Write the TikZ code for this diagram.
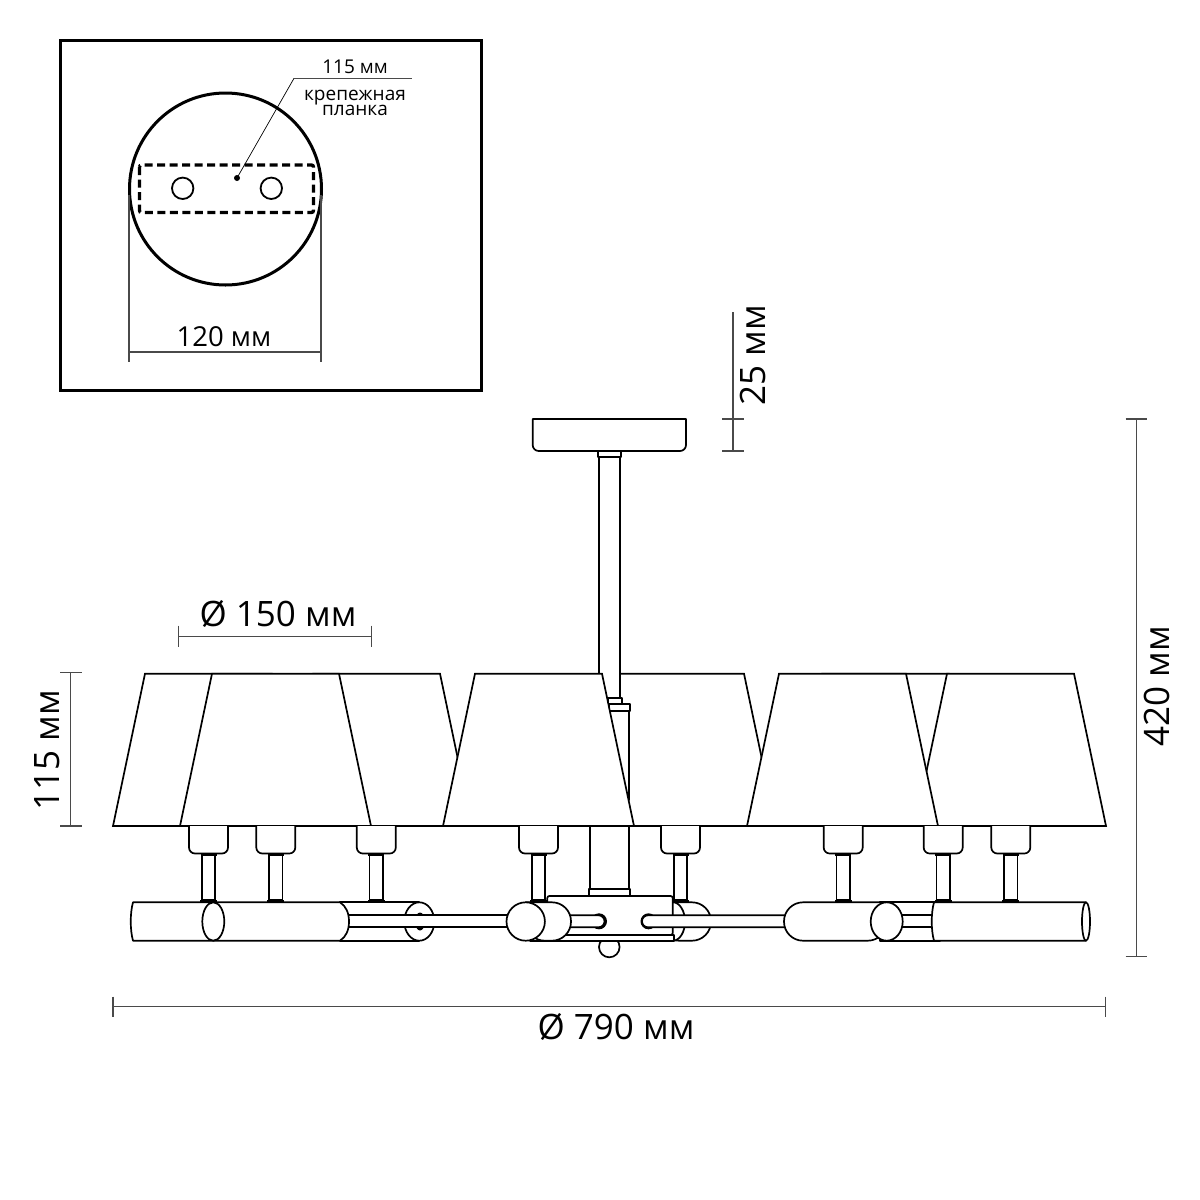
\documentclass[tikz,border=0pt]{standalone}
\usepackage{fontspec}
\setmainfont{Open Sans}
\usetikzlibrary{positioning,calc}
\definecolor{dimgrey}{HTML}{4A4A4A}
\tikzset{
  part/.style={draw=black,line width=1.7pt,fill=white,line join=round},
  dimline/.style={draw=dimgrey,line width=1.1pt},
  thin leader/.style={draw=black,line width=0.7pt},
  biglabel/.style={font=\fontsize{35}{35}\selectfont,inner sep=0pt},
  midlabel/.style={font=\fontsize{27.5}{27.5}\selectfont,inner sep=0pt},
  smalllabel/.style={font=\fontsize{19}{19}\selectfont,inner sep=0pt,text height=10pt,text depth=3pt}
}
\begin{document}
\begin{tikzpicture}[x=1pt,y=-1pt]
    \useasboundingbox (0,0) rectangle (1200,1200);
    % Mounting plate inset
    \draw[line width=3pt] (60,40) rectangle (481,390);
    \draw[line width=3pt,fill=white] (225.5,189) circle (96);
    \draw[line width=3.3pt,dash pattern=on 8pt off 4.5pt,rounded corners=2pt] (139.5,165) rectangle (313.5,212.5);
    \draw[line width=1.8pt] (182.7,188.3) circle (10.7);
    \draw[line width=1.8pt] (271.3,188.3) circle (10.7);
    \coordinate (dot) at (237,178);
    \coordinate (elbow) at (294,78.3);
    \coordinate (shelf) at (411.7,78.3);
    \fill (dot) circle (3);
    \draw[thin leader] (dot) -- (elbow);
    \draw[dimline] (elbow) -- (shelf);
    \node[smalllabel] (plate) at (355,70) {115 мм};
    \node[smalllabel] (bar) at (355,96.7) {крепежная};
    \node[smalllabel] (barb) at (355,111.7) {планка};
    \coordinate (wl) at (129,195);
    \coordinate (wr) at (321,195);
    \draw[dimline] (wl) -- (129,362) (wr) -- (321,362) (129,352) -- (321,352);
    \node[midlabel] (width) at (224,337) {120 мм};

    % Back shades
    \foreach \sx in {145,313,617,822,947}
        \draw[part,line join=miter] (\sx,673.7) -- (\sx+127,673.7) -- (\sx+159,826) -- (\sx-32,826) -- cycle;

    % Stem
    \draw[part] (532.7,419) -- (686,419) [rounded corners=6pt] -- (686,451) -- (532.7,451) [sharp corners] -- cycle;
    \draw[part] (597.7,451) rectangle (621,457);
    \draw[part] (599.3,457) rectangle (620,698);
    \draw[part] (607.7,698) rectangle (621.7,704);
    \draw[part] (609,704) rectangle (630,711);
    \draw[part] (609,711) rectangle (628.7,800);

    % Front shades
    \foreach \sx in {212,475,779}
        \draw[part,line join=miter] (\sx,673.7) -- (\sx+127,673.7) -- (\sx+159,826) -- (\sx-32,826) -- cycle;

    % Centre post
    \draw[part] (590.3,826) rectangle (629,889.3);
    \draw[part] (589,889.3) rectangle (630.3,895.5);

    % Sockets
    \foreach \cx in {208.5,275.8,376.3,538.5,680.5,843.2,943.2,1010.8} {
        \draw[part,rounded corners=6pt] (\cx-19.5,826) -- (\cx-19.5,853.5) -- (\cx+19.5,853.5) -- (\cx+19.5,826);
        \draw[part] (\cx-6.7,855) rectangle (\cx+6.7,900);
        \fill (\cx-8,852.8) rectangle (\cx+8,856);
        \fill (\cx-8.5,899.5) rectangle (\cx+8.5,903);
    }

    % Left arm
    \draw[part] (340,902.3) rectangle (419.3,940.7);
    \draw[part] (419.3,921.5) ellipse (15 and 19.2);
    \fill (420,921.5) ellipse (5 and 9);
    \fill[white] (345,915.3) rectangle (515,927.3);
    \draw[part] (345,915.3) -- (515,915.3) (345,927.3) -- (515,927.3);
    \draw[part] (133,902.3) -- (340,902.3) .. controls (346,906) and (349,913) .. (349,921.5) .. controls (349,930) and (346,937) .. (340,940.7) -- (133,940.7) .. controls (130,930) and (130,913) .. (133,902.3) -- cycle;
    \draw[part] (213.3,921.5) ellipse (11 and 19.2);

    % Centre body
    \draw[part] (609.3,947) circle (10.3);
    \draw[part,rounded corners=19pt] (660,902.3) -- (711,902.3) -- (711,940.7) -- (660,940.7) [sharp corners] -- cycle;
    \draw[part] (673,921.5) ellipse (12 and 19.2);
    \draw[part] (530,935) rectangle (674,940.7);
    \draw[part,rounded corners=2pt] (547.3,935) -- (547.3,896) -- (672.7,896) -- (672.7,935) -- cycle;
    \fill (599,921.3) circle (8);
    \fill (648.5,921.3) circle (8);
    \draw[part,rounded corners=6pt] (560,915.3) -- (604.5,915.3) -- (604.5,927.3) -- (560,927.3);
    \draw[part,rounded corners=6pt] (795,915.3) -- (642,915.3) -- (642,927.3) -- (795,927.3);
    \draw[part,rounded corners=19pt] (525.7,902.3) -- (571,902.3) -- (571,940.7) -- (525.7,940.7) [sharp corners] -- cycle;
    \draw[part] (525.7,921.5) circle (19.2);

    % Right arm
    \draw[part] (880,902.3) rectangle (940,940.7);
    \draw[part] (895,915.3) rectangle (940,927.3);
    \draw[part,rounded corners=19pt] (886.7,902.3) -- (784,902.3) -- (784,940.7) -- (886.7,940.7) [sharp corners] -- cycle;
    \draw[part] (886.7,921.5) ellipse (16 and 19.2);
    \draw[part] (934,902.3) -- (1086,902.3) -- (1086,940.7) -- (934,940.7) .. controls (931,930) and (931,913) .. (934,902.3) -- cycle;
    \draw[part] (1086,921.5) ellipse (4 and 19.2);

    % Dimensions
    \coordinate (ta) at (722,419);
    \coordinate (tb) at (722,451);
    \draw[dimline] (ta) -- (744,419) (tb) -- (744,451) (733,312) -- (733,451);
    \node[biglabel,rotate=90] (depth) at (753,355) {25 мм};
    \draw[dimline] (178.3,625.7) -- (178.3,647.3) (371.3,625.7) -- (371.3,647.3) (178.3,636.7) -- (371.3,636.7);
    \node[biglabel] (shadewide) at (278,614) {Ø 150 мм};
    \draw[dimline] (60,672.7) -- (81.7,672.7) (60,826) -- (81.7,826) (70.7,672.7) -- (70.7,826);
    \node[biglabel,rotate=90] (shadehigh) at (47.5,750) {115 мм};
    \draw[dimline] (1125.7,419) -- (1147,419) (1125.7,956.7) -- (1147,956.7) (1136.3,419) -- (1136.3,956.7);
    \node[biglabel,rotate=90] (total) at (1157,686.5) {420 мм};
    \draw[dimline] (113,996.7) -- (113,1016.7) (1105.7,996.7) -- (1105.7,1016.7) (113,1006.7) -- (1105.7,1006.7);
    \node[biglabel] (overall) at (616,1027) {Ø 790 мм};
\end{tikzpicture}
\end{document}
